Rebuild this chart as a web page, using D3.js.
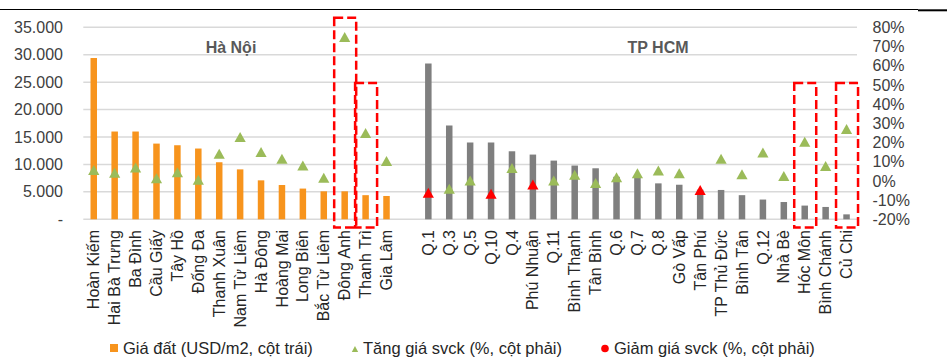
<!DOCTYPE html>
<html>
<head>
<meta charset="utf-8">
<script src="https://cdn.jsdelivr.net/npm/d3@7/dist/d3.min.js"></script>
<style>
  html, body { margin: 0; padding: 0; background: #fff; }
  svg { display: block; font-family: "Liberation Sans", Arial, sans-serif; }
</style>
</head>
<body>
<svg id="chart" width="947" height="359"></svg>
<script>
// Land price by district (USD/m2, left axis) and year-on-year change (%, right axis)
const haNoiDistricts = ["Hoàn Kiếm","Hai Bà Trưng","Ba Đình","Cầu Giấy","Tây Hồ","Đống Đa","Thanh Xuân","Nam Từ Liêm","Hà Đông","Hoàng Mai","Long Biên","Bắc Từ Liêm","Đông Anh","Thanh Trì","Gia Lâm"];
const haNoiPrice = [29400,16000,16000,13800,13500,12900,10400,9100,7100,6250,5600,5100,5100,4400,4250];
const haNoiRise = [0.057,0.043,0.070,0.014,0.045,0.006,0.141,0.228,0.150,0.115,0.080,0.016,0.749,0.249,0.104];
const haNoiFall = [null,null,null,null,null,null,null,null,null,null,null,null,null,null,null];

const hcmDistricts = ["Q.1","Q.3","Q.5","Q.10","Q.4","Phú Nhuận","Q.11","Bình Thạnh","Tân Bình","Q.6","Q.7","Q.8","Gò Vấp","Tân Phú","TP Thủ Đức","Bình Tân","Q.12","Nhà Bè","Hóc Môn","Bình Chánh","Củ Chi"];
const hcmPrice = [28400,17100,14000,14000,12400,11800,10700,9800,9300,7750,7650,6550,6300,5400,5350,4400,3600,3150,2500,2250,900];
const hcmRise = [null,-0.041,0.002,null,0.067,null,0.002,0.032,-0.011,0.019,0.040,0.054,0.040,null,0.116,0.035,0.148,0.026,0.204,0.078,0.270];
const hcmFall = [-0.062,null,null,-0.067,null,-0.019,null,null,null,null,null,null,null,-0.047,null,null,null,null,null,null,null];

const leftTicks = [0,5000,10000,15000,20000,25000,30000,35000];
const rightTicks = [-0.2,-0.1,0,0.1,0.2,0.3,0.4,0.5,0.6,0.7,0.8];
const regionTitles = ["Hà Nội","TP HCM"];
const legendLabels = ["Giá đất (USD/m2, cột trái)","Tăng giá svck (%, cột phải)","Giảm giá svck (%, cột phải)"];
// districts framed by dashed boxes, with the box top on the right-axis scale
const highlighted = [["Đông Anh",0.85],["Thanh Trì",0.51],["Hóc Môn",0.51],["Củ Chi",0.51]];

const GAP = " ";
const rows = [];
haNoiDistricts.forEach((d,i) => rows.push({name:d, price:haNoiPrice[i], rise:haNoiRise[i], fall:haNoiFall[i], city:"hn"}));
hcmDistricts.forEach((d,i) => rows.push({name:d, price:hcmPrice[i], rise:hcmRise[i], fall:hcmFall[i], city:"hcm"}));
const domain = haNoiDistricts.concat([GAP], hcmDistricts);

const C = { orange:"#F7941D", gray:"#7F7F7F", green:"#9BBB59", red:"#FF0000", grid:"#D9D9D9", text:"#404040" };

const svg = d3.select("#chart");
const x = d3.scaleBand().domain(domain).range([83.3, 857]).padding(0);
const yL = d3.scaleLinear().domain([0,35000]).range([219.3, 27.3]);
const yR = d3.scaleLinear().domain([-0.2,0.8]).range([219.3, 27.3]);
const cx = d => x(d) + x.bandwidth()/2;

// header rule
svg.append("line").attr("x1",0).attr("x2",918).attr("y1",9.5).attr("y2",9.5)
  .attr("stroke","#000").attr("stroke-width",1.1);
svg.append("rect").attr("x",918).attr("y",9.3).attr("width",29).attr("height",2).attr("fill","#000");

// gridlines
svg.append("g").selectAll("line").data(leftTicks).join("line")
  .attr("x1",x.range()[0]).attr("x2",x.range()[1])
  .attr("y1",d=>yL(d)).attr("y2",d=>yL(d))
  .attr("stroke",C.grid).attr("stroke-width",1.5);

// left axis
const loc = d3.formatLocale({decimal:",", thousands:".", grouping:[3], currency:["",""]});
const fmtL = loc.format(",.0f");
const axL = d3.axisLeft(yL).tickValues(leftTicks).tickSize(0).tickPadding(0)
  .tickFormat(d => d === 0 ? "-" : fmtL(d));
svg.append("g").attr("transform","translate(63,0)").call(axL)
  .call(g => g.select(".domain").remove())
  .selectAll("text").attr("font-size",16).attr("fill",C.text).attr("font-family","Liberation Sans, Arial, sans-serif");

// right axis
const axR = d3.axisRight(yR).tickValues(rightTicks).tickSize(0).tickPadding(0)
  .tickFormat(d => Math.round(d*100) + "%");
svg.append("g").attr("transform","translate(872.5,0)").call(axR)
  .call(g => g.select(".domain").remove())
  .selectAll("text").attr("font-size",16).attr("fill",C.text).attr("font-family","Liberation Sans, Arial, sans-serif");

// bars
const barW = 6.5;
svg.append("g").selectAll("rect").data(rows).join("rect")
  .attr("x", d => cx(d.name) - barW/2)
  .attr("width", barW)
  .attr("y", d => yL(d.price))
  .attr("height", d => yL(0) - yL(d.price))
  .attr("fill", d => d.city === "hn" ? C.orange : C.gray);

// markers
const tri = "M0,-5L5.6,5L-5.6,5Z";
svg.append("g").selectAll("path").data(rows.filter(d => d.rise !== null)).join("path")
  .attr("d", tri).attr("fill", C.green)
  .attr("transform", d => `translate(${cx(d.name)},${yR(d.rise)})`);
svg.append("g").selectAll("path").data(rows.filter(d => d.fall !== null)).join("path")
  .attr("d", tri).attr("fill", C.red)
  .attr("transform", d => `translate(${cx(d.name)},${yR(d.fall)})`);

// category labels
svg.append("g").selectAll("text").data(rows).join("text")
  .attr("transform", d => `translate(${cx(d.name)},230) rotate(-90)`)
  .attr("text-anchor","end").attr("dy","0.35em")
  .attr("font-size",16).attr("fill","#262626")
  .text(d => d.name);

// region titles
const hnMid = (cx(haNoiDistricts[0]) + cx(haNoiDistricts[haNoiDistricts.length-1]))/2;
svg.append("text").attr("x",231).attr("y",52.5).attr("text-anchor","middle")
  .attr("font-size",16).attr("font-weight","bold").attr("fill","#595959").text(regionTitles[0]);
svg.append("text").attr("x",658).attr("y",52.5).attr("text-anchor","middle")
  .attr("font-size",16).attr("font-weight","bold").attr("fill","#595959").text(regionTitles[1]);

// dashed highlight frames
const boxW = 22;
svg.append("g").selectAll("rect").data(highlighted).join("rect")
  .attr("x", d => cx(d[0]) - boxW/2 + 0.5)
  .attr("width", boxW)
  .attr("y", d => yR(d[1]))
  .attr("height", d => 227.5 - yR(d[1]))
  .attr("fill","none").attr("stroke",C.red).attr("stroke-width",2.5)
  .attr("stroke-dasharray","9,4");

// legend
const lg = svg.append("g").attr("font-size",16.5).attr("fill","#262626");
lg.append("rect").attr("x",110).attr("y",344).attr("width",8).attr("height",8).attr("fill",C.orange);
lg.append("text").attr("x",123).attr("y",353.5).text(legendLabels[0]);
lg.append("path").attr("d","M0,-3L3.2,3L-3.2,3Z").attr("fill",C.green).attr("transform","translate(355,349)");
lg.append("text").attr("x",363).attr("y",353.5).text(legendLabels[1]);
lg.append("circle").attr("cx",605).attr("cy",348.5).attr("r",3.8).attr("fill",C.red);
lg.append("text").attr("x",614).attr("y",353.5).text(legendLabels[2]);
</script>
</body>
</html>
